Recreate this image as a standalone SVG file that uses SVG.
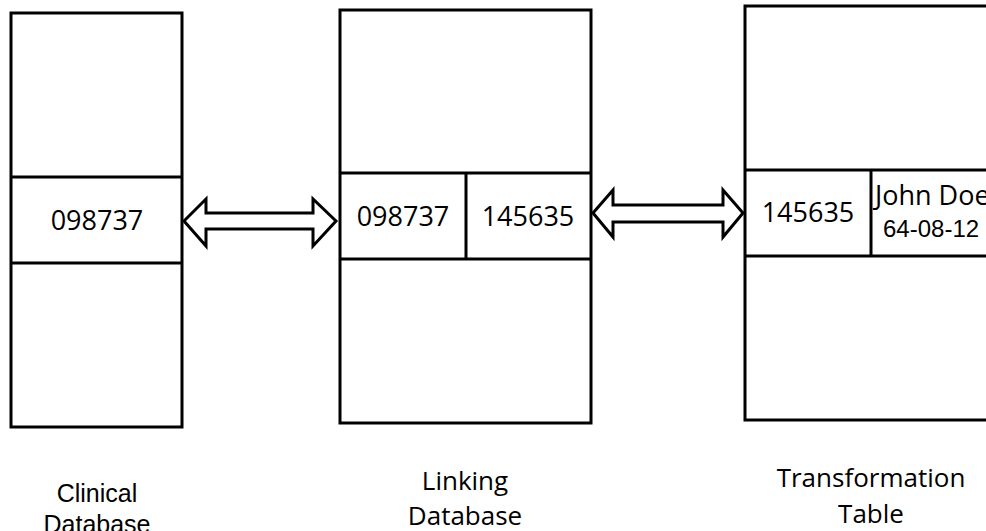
<svg xmlns="http://www.w3.org/2000/svg" width="986" height="531" viewBox="0 0 986 531">
<style>
.box{fill:#fff;stroke:#000;stroke-width:3}
.ln{stroke:#000;stroke-width:3;fill:none}
.arr{fill:#fff;stroke:#000;stroke-width:3;stroke-linejoin:miter}
.num{font-family:"Open Sans","DejaVu Sans",sans-serif;font-size:27px;fill:#000;text-anchor:middle}
.lbl{font-family:"Open Sans","DejaVu Sans",sans-serif;font-size:26px;fill:#000;text-anchor:middle}
.lbla{font-family:"Liberation Sans",Arial,sans-serif;font-size:25px;fill:#000;text-anchor:middle}
</style>
<rect width="986" height="531" fill="#fff"/>
<g id="clinical">
<rect class="box" x="11" y="13" width="171" height="414"/>
<line class="ln" x1="11" y1="177" x2="182" y2="177"/>
<line class="ln" x1="11" y1="263" x2="182" y2="263"/>
<text class="num" x="97" y="230">098737</text>
<text class="lbla" x="97" y="502">Clinical</text>
<text class="lbla" x="97" y="533">Database</text>
</g>
<g id="linking">
<rect class="box" x="340" y="10" width="251" height="413"/>
<line class="ln" x1="340" y1="173" x2="591" y2="173"/>
<line class="ln" x1="340" y1="259" x2="591" y2="259"/>
<line class="ln" x1="466" y1="173" x2="466" y2="259"/>
<text class="num" x="403" y="226">098737</text>
<text class="num" x="528" y="226">145635</text>
<text class="lbl" x="465" y="490">Linking</text>
<text class="lbl" x="465" y="525">Database</text>
</g>
<g id="transformation">
<rect class="box" x="745" y="6" width="260" height="414"/>
<line class="ln" x1="745" y1="170" x2="986" y2="170"/>
<line class="ln" x1="745" y1="256" x2="986" y2="256"/>
<line class="ln" x1="871" y1="170" x2="871" y2="256"/>
<text class="num" x="808" y="222">145635</text>
<text class="lbl" x="875" y="205" style="text-anchor:start;font-size:27px">John Doe</text>
<text class="lbla" x="883" y="237" style="text-anchor:start;font-size:24px">64-08-12</text>
<text class="lbl" x="871" y="487">Transformation</text>
<text class="lbl" x="871" y="523">Table</text>
</g>
<g id="connectors">
<polygon class="arr" points="184,221 206,199 206,213 313,213 313,199 336,221 313,246 313,229 206,229 206,246"/>
<polygon class="arr" points="593,213 613,190 613,205 723,205 723,190 743,213 723,237 723,222 613,222 613,237"/>
</g>
</svg>
